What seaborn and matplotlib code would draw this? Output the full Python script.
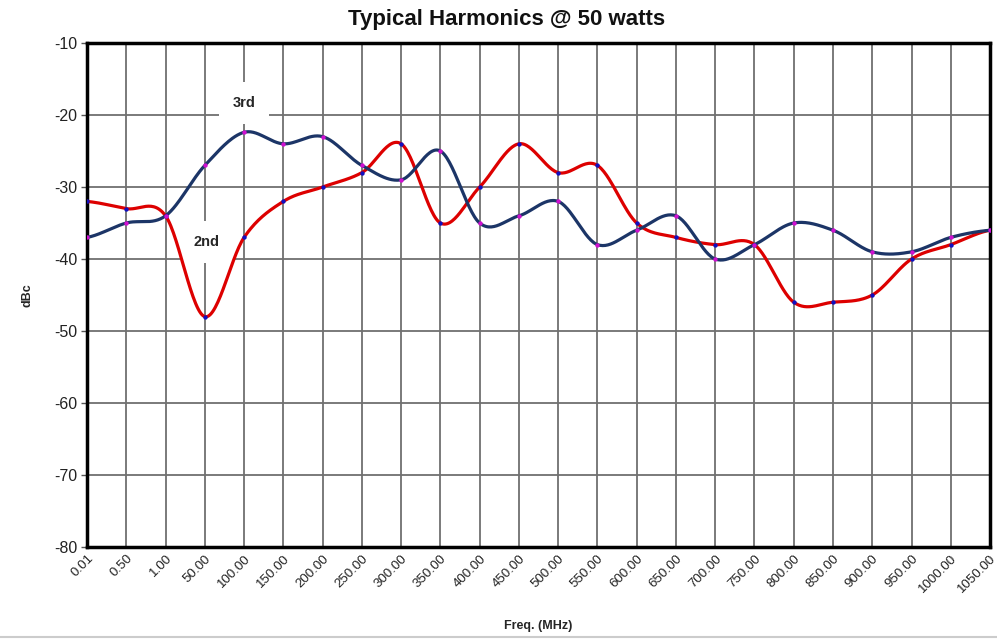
import numpy as np
import pandas as pd
import matplotlib
matplotlib.use("Agg")
import matplotlib.pyplot as plt
import seaborn as sns

# Datos
freqs = ["0.01", "0.50", "1.00", "50.00", "100.00", "150.00", "200.00", "250.00",
         "300.00", "350.00", "400.00", "450.00", "500.00", "550.00", "600.00",
         "650.00", "700.00", "750.00", "800.00", "850.00", "900.00", "950.00",
         "1000.00", "1050.00"]
second = [-32, -33, -34, -48, -37, -32, -30, -28, -24, -35, -30, -24, -28, -27,
          -35, -37, -38, -38, -46, -46, -45, -40, -38, -36]
third = [-37, -35, -34, -27, -22.4, -24, -23, -27, -29, -25, -35, -34, -32, -38,
         -36, -34, -40, -38, -35, -36, -39, -39, -37, -36]
yticks = [-10, -20, -30, -40, -50, -60, -70, -80]

sns.set_theme(style="white")
plt.rcParams["font.family"] = ["Liberation Sans", "DejaVu Sans"]


def smooth(vals, n=30):
    # curva suavizada tipo Excel (Catmull-Rom) para dibujar la linea
    p = np.array(vals, dtype=float)
    p = np.concatenate([[p[0]], p, [p[-1]]])
    xs, ys = [], []
    for i in range(1, len(p) - 2):
        t = np.linspace(0, 1, n, endpoint=False)
        p0, p1, p2, p3 = p[i - 1], p[i], p[i + 1], p[i + 2]
        y = 0.5 * ((2 * p1) + (-p0 + p2) * t + (2 * p0 - 5 * p1 + 4 * p2 - p3) * t ** 2
                   + (-p0 + 3 * p1 - 3 * p2 + p3) * t ** 3)
        xs.extend(i - 1 + t)
        ys.extend(y)
    xs.append(len(vals) - 1)
    ys.append(vals[-1])
    return pd.DataFrame({"x": xs, "y": ys})


fig = plt.figure(figsize=(9.97, 6.41), dpi=100)
ax = fig.add_axes([0.0873, 0.1466, 0.9057, 0.7863])

red = "#dd0000"
navy = "#1c3567"
sns.lineplot(data=smooth(second), x="x", y="y", color=red, linewidth=2.3, ax=ax, sort=False, zorder=3)
sns.lineplot(data=smooth(third), x="x", y="y", color=navy, linewidth=2.3, ax=ax, sort=False, zorder=4)

pts = pd.DataFrame({"x": range(len(freqs)), "second": second, "third": third})
sns.scatterplot(data=pts, x="x", y="second", color="#1010c0", s=10, linewidth=0, ax=ax, zorder=5)
sns.scatterplot(data=pts, x="x", y="third", color="#d010d0", s=10, linewidth=0, ax=ax, zorder=5)

ax.set_xlim(0, len(freqs) - 1)
ax.set_ylim(-80, -10)
ax.set_xticks(range(len(freqs)))
ax.set_xticklabels(freqs, rotation=45, ha="right", rotation_mode="anchor", fontsize=9.6, color="#222222")
ax.set_yticks(yticks)
ax.set_yticklabels([str(v) for v in yticks], fontsize=11.5, color="#222222")
ax.grid(True, color="#707070", linewidth=1.3)
ax.tick_params(axis="y", length=4, width=1, color="#555555", pad=3, left=True)
ax.tick_params(axis="x", length=0, pad=4)
for s in ax.spines.values():
    s.set_color("black")
    s.set_linewidth(2.5)

fig.text(0.508, 0.969, "Typical Harmonics @ 50 watts", ha="center", va="center",
         fontsize=16, fontweight="bold", color="#111111")
ax.set_xlabel("Freq. (MHz)", fontsize=9, fontweight="bold", labelpad=18)
ax.set_ylabel("dBc", fontsize=9, fontweight="bold", labelpad=15)

ax.text(4, -18.3, "3rd", ha="center", va="center", fontsize=10.5, fontweight="bold", zorder=6,
        bbox=dict(facecolor="white", edgecolor="none", pad=10))
ax.text(3.05, -37.6, "2nd", ha="center", va="center", fontsize=10.5, fontweight="bold", zorder=2,
        bbox=dict(facecolor="white", edgecolor="none", pad=10))

fig.add_artist(plt.Line2D([0, 1], [0.006, 0.006], color="#cccccc", linewidth=1.5))

plt.savefig("out.png", dpi=100)
